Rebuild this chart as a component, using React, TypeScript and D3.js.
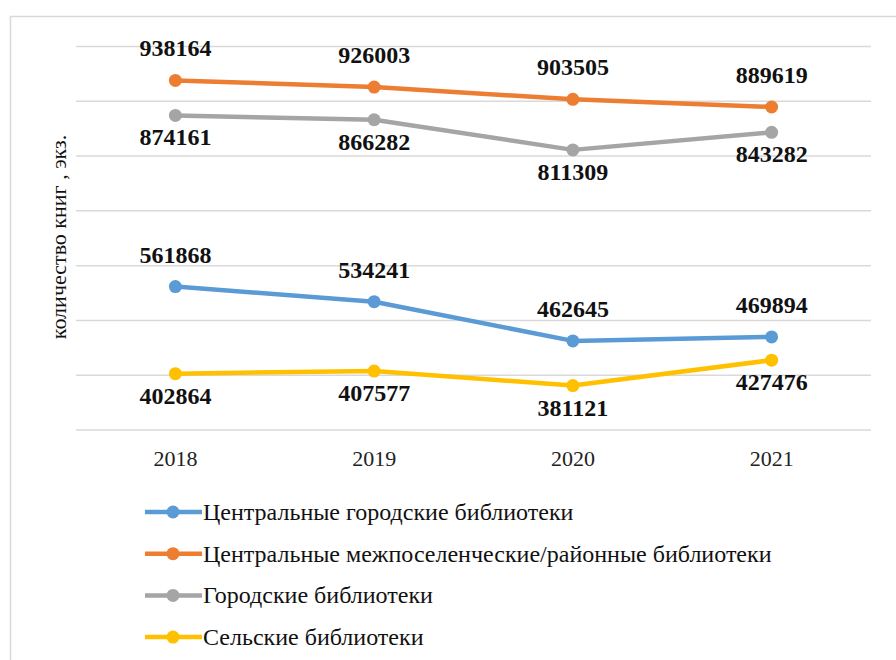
import React, { useRef, useEffect } from 'react';
import * as d3 from 'd3';

const years = ['2018', '2019', '2020', '2021'];
const centralCity = [561868, 534241, 462645, 469894];
const centralDistrict = [938164, 926003, 903505, 889619];
const cityLibs = [874161, 866282, 811309, 843282];
const ruralLibs = [402864, 407577, 381121, 427476];
const seriesNames = [
  'Центральные городские библиотеки',
  'Центральные межпоселенческие/районные библиотеки',
  'Городские библиотеки',
  'Сельские библиотеки',
];
const yTicks = [300000, 400000, 500000, 600000, 700000, 800000, 900000, 1000000];

const App = () => {
  const svgRef = useRef<SVGSVGElement>(null);

  useEffect(() => {
    const svg = d3.select(svgRef.current);
    svg.selectAll('*').remove();

    const w = 896;
    const h = 660;
    svg.attr('width', w).attr('height', h)
      .style('position', 'absolute').style('left', '0px').style('top', '0px');

    const font = "'Liberation Serif', 'Times New Roman', serif";

    // frame
    svg.append('rect')
      .attr('x', 10.5).attr('y', 16.5)
      .attr('width', w).attr('height', h)
      .attr('fill', 'white')
      .attr('stroke', '#d9d9d9').attr('stroke-width', 1.5);

    const x = d3.scaleBand().domain(years).range([76, 871]);
    const y = d3.scaleLinear().domain([300000, 1000000]).range([430, 46.5]);
    const cx = (d: string) => (x(d) as number) + x.bandwidth() / 2;

    svg.append('g')
      .selectAll('line')
      .data(yTicks)
      .join('line')
      .attr('x1', 76).attr('x2', 871)
      .attr('y1', d => y(d)).attr('y2', d => y(d))
      .attr('stroke', '#d9d9d9').attr('stroke-width', 1.5);

    // year labels
    svg.append('g')
      .selectAll('text')
      .data(years)
      .join('text')
      .attr('x', d => cx(d))
      .attr('y', 466)
      .attr('text-anchor', 'middle')
      .attr('font-family', font)
      .attr('font-size', 22)
      .attr('fill', '#222')
      .text(d => d);

    svg.append('text')
      .attr('transform', 'translate(66,237) rotate(-90)')
      .attr('text-anchor', 'middle')
      .attr('font-family', font)
      .attr('font-size', 22)
      .attr('fill', '#111')
      .text('количество книг , экз.');

    const series = [
      { name: seriesNames[0], values: centralCity, color: '#5b9bd5', above: true },
      { name: seriesNames[1], values: centralDistrict, color: '#ed7d31', above: true },
      { name: seriesNames[2], values: cityLibs, color: '#a5a5a5', above: false },
      { name: seriesNames[3], values: ruralLibs, color: '#ffc000', above: false },
    ];

    const line = d3.line<number>()
      .x((_, i) => cx(years[i]))
      .y(d => y(d));

    series.forEach(s => {
      const g = svg.append('g');
      g.append('path')
        .attr('d', line(s.values))
        .attr('fill', 'none')
        .attr('stroke', s.color)
        .attr('stroke-width', 4.5)
        .attr('stroke-linejoin', 'round');
      g.selectAll('circle')
        .data(s.values)
        .join('circle')
        .attr('cx', (_, i) => cx(years[i]))
        .attr('cy', d => y(d))
        .attr('r', 6.5)
        .attr('fill', s.color);
    });

    series.forEach(s => {
      svg.append('g')
        .selectAll('text')
        .data(s.values)
        .join('text')
        .attr('x', (_, i) => cx(years[i]))
        .attr('y', d => s.above ? y(d) - 24 : y(d) + 30)
        .attr('text-anchor', 'middle')
        .attr('font-family', font)
        .attr('font-size', 24)
        .attr('font-weight', 'bold')
        .attr('fill', '#111')
        .text(d => d);
    });

    // legend
    const legend = svg.append('g')
      .selectAll('g')
      .data(series)
      .join('g')
      .attr('transform', (_, i) => `translate(145,${512 + i * 41.7})`);
    legend.append('line')
      .attr('x1', 0).attr('x2', 57)
      .attr('stroke', d => d.color).attr('stroke-width', 4.5);
    legend.append('circle')
      .attr('cx', 28).attr('r', 6.5)
      .attr('fill', d => d.color);
    legend.append('text')
      .attr('x', 58).attr('y', 8)
      .attr('font-family', font)
      .attr('font-size', 24)
      .attr('fill', '#111')
      .text(d => d.name);
  }, []);

  return <svg ref={svgRef}></svg>;
};

export default App;
